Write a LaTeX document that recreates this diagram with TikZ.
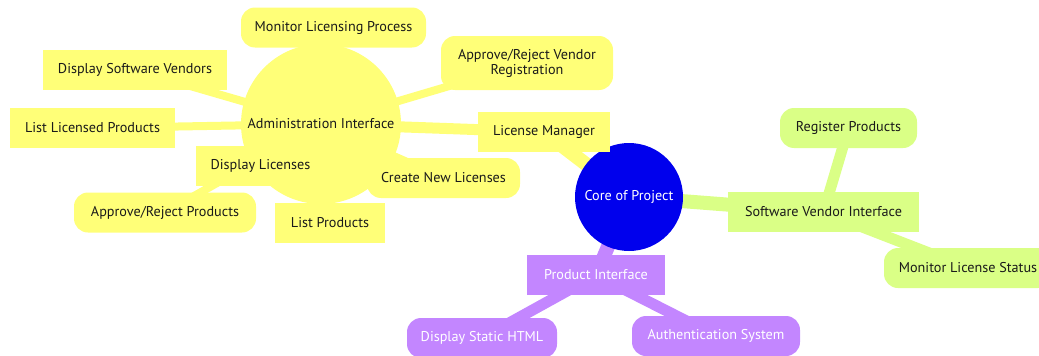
\documentclass[tikz,border=0pt]{standalone}
\usepackage{fontspec}
\setmainfont{PT Sans}
\pgfdeclarelayer{bg}
\pgfsetlayers{bg,main}
\definecolor{rootblue}{HTML}{0000ED}
\definecolor{secyellow}{HTML}{FFFF78}
\definecolor{secgreen}{HTML}{DAFF86}
\definecolor{secpurple}{HTML}{C386FF}
\definecolor{txtdark}{HTML}{1A1A1A}
\tikzset{
  x=1pt, y=-1pt,
  every node/.style={font=\fontsize{14.2}{15}\selectfont, inner sep=0pt, align=center},
  sq/.style={rectangle, minimum height=40pt},
  rnd/.style={rectangle, rounded corners=14pt, minimum height=40pt},
  ylw/.style={fill=secyellow, text=txtdark},
  grn/.style={fill=secgreen, text=txtdark},
  prp/.style={fill=secpurple, text=white},
  d0/.style={line width=14pt},
  d1/.style={line width=11pt},
  d2/.style={line width=8pt},
}
\begin{document}
\begin{tikzpicture}
\useasboundingbox (0,0) rectangle (1039,356);
% root
\node[circle, fill=rootblue, text=white, minimum size=108pt] (core) at (629,197) {Core of Project};
% yellow section
\node[sq, ylw, minimum width=132pt] (lm) at (544,132) {License Manager};
\node[circle, ylw, minimum size=160pt] (admin) at (321,124) {Administration Interface};
\node[rnd, ylw, minimum width=185pt] (mlp) at (333.5,27.5) {Monitor Licensing Process};
\node[rnd, ylw, minimum width=172pt, minimum height=54pt] (arvr) at (527,63) {Approve/Reject Vendor\\Registration};
\node[sq, ylw, minimum width=184pt] (dsv) at (135,70) {Display Software Vendors};
\node[sq, ylw, minimum width=165pt] (llp) at (92.5,128) {List Licensed Products};
\node[sq, ylw, minimum width=129pt] (dl) at (260.5,166) {Display Licenses};
\node[rnd, ylw, minimum width=153pt] (cnl) at (443.5,178) {Create New Licenses};
\node[rnd, ylw, minimum width=182pt] (arp) at (165,212.5) {Approve/Reject Products};
\node[sq, ylw, minimum width=110pt] (lp) at (330,223) {List Products};
% green section
\node[sq, grn, minimum width=191pt] (svi) at (823.5,212) {Software Vendor Interface};
\node[rnd, grn, minimum width=137pt] (rp) at (848.5,128) {Register Products};
\node[rnd, grn, minimum width=168pt] (mls) at (968,268) {Monitor License Status};
% purple section
\node[sq, prp, minimum width=138pt] (pi) at (596,275) {Product Interface};
\node[rnd, prp, minimum width=150pt] (dsh) at (482,338) {Display Static HTML};
\node[rnd, prp, minimum width=168pt] (auth) at (716,336) {Authentication System};
% connectors
\begin{pgfonlayer}{bg}
\draw[d0, secyellow] (core.center) -- (lm.center);
\draw[d0, secgreen] (core.center) -- (svi.center);
\draw[d0, secpurple] (core.center) -- (pi.center);
\draw[d1, secyellow] (lm.center) -- (admin.center);
\foreach \c in {mlp, arvr, dsv, llp, dl, cnl, arp, lp}
  \draw[d2, secyellow] (admin.center) -- (\c.center);
\draw[d1, secgreen] (svi.center) -- (rp.center);
\draw[d1, secgreen] (svi.center) -- (mls.center);
\draw[d1, secpurple] (pi.center) -- (dsh.center);
\draw[d1, secpurple] (pi.center) -- (auth.center);
\end{pgfonlayer}
\end{tikzpicture}
\end{document}
